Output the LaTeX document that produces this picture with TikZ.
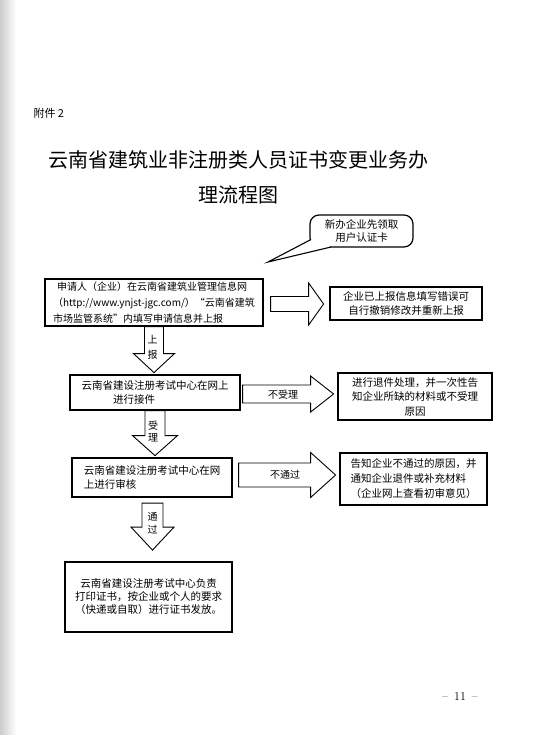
\documentclass[tikz,border=0pt]{standalone}
\usepackage{fontspec}
\newfontfamily\cjk{Noto Sans CJK SC}
\usetikzlibrary{positioning, calc}
\tikzset{
  flowbox/.style={draw, line width=1.2pt, inner sep=0pt,
                  font=\cjk\fontsize{10.5}{14}\selectfont},
  blockarr/.style={draw, line width=0.9pt, fill=white, line join=miter},
  arrlabel/.style={font=\cjk\fontsize{10}{13}\selectfont, align=center, inner sep=0pt}
}
% block arrows: tail, length, shaft half width, head half width, head length
\newcommand{\RightBlock}[5]{%
  \draw[blockarr] (#1) ++(0,-#3) -- ++({#2-#5},0) -- ++(0,{-(#4-#3)})
    -- ++(#5,#4) -- ++(-#5,#4) -- ++(0,{-(#4-#3)}) -- ++({-(#2-#5)},0) -- cycle;}
\newcommand{\DownBlock}[5]{%
  \draw[blockarr] (#1) ++(-#3,0) -- ++(0,{#2-#5}) -- ++({-(#4-#3)},0)
    -- ++(#4,#5) -- ++(#4,-#5) -- ++({-(#4-#3)},0) -- ++(0,{-(#2-#5)}) -- cycle;}

\begin{document}
\begin{tikzpicture}[x=1pt,y=-1pt]
  \useasboundingbox (0,0) rectangle (552,735);
  \shade[left color=gray!40, right color=white] (0,0) rectangle (16,735);

  \node[font=\cjk\fontsize{11}{13}\selectfont, anchor=west] (annex) at (30,113) {附件 2};
  \node[font=\cjk\fontsize{20}{24}\selectfont] (title1) at (238,160) {云南省建筑业非注册类人员证书变更业务办};
  \node[font=\cjk\fontsize{20}{24}\selectfont] (title2) at (238,195) {理流程图};

  % callout
  \node[draw, line width=1.2pt, rounded corners=9pt, minimum width=103pt, minimum height=32pt,
        align=center, font=\cjk\fontsize{10.5}{12.5}\selectfont, inner sep=0pt] (newco) at (361.5,231)
        {新办企业先领取\\用户认证卡};
  \coordinate (tip) at (268,262);
  \fill[white] (311,239.5) -- (tip) -- (331,247) -- cycle;
  \draw[line width=1.1pt] (311,239.5) -- (tip) -- (331,247);

  % main column
  \node[flowbox, minimum width=218pt, minimum height=47pt, align=left,
        font=\cjk\fontsize{10}{16}\selectfont] (apply) at (154,302.5)
        {\hspace*{0.4em}申请人（企业）在云南省建筑业管理信息网\\（http://www.ynjst-jgc.com/）“云南省建筑\\市场监管系统”内填写申请信息并上报};
  \node[flowbox, minimum width=170pt, minimum height=35pt, align=left] (accept) at (155,392.5)
        {云南省建设注册考试中心在网上\\\hspace*{3em}进行接件};
  \node[flowbox, minimum width=160pt, minimum height=39pt, align=left] (review) at (152,477.5)
        {云南省建设注册考试中心在网\\上进行审核};
  \node[flowbox, minimum width=167pt, minimum height=70pt, align=center,
        font=\cjk\fontsize{10.5}{13}\selectfont] (issue) at (148.5,597)
        {云南省建设注册考试中心负责\\打印证书，按企业或个人的要求\\（快递或自取）进行证书发放。};

  % right column
  \node[flowbox, minimum width=152pt, minimum height=33pt, align=center] (revoke) at (406,303.5)
        {企业已上报信息填写错误可\\自行撤销修改并重新上报};
  \node[flowbox, minimum width=154pt, minimum height=47pt, align=center,
        font=\cjk\fontsize{10.5}{14.5}\selectfont] (reject) at (415,396.5)
        {进行退件处理，并一次性告\\知企业所缺的材料或不受理\\原因};
  \node[flowbox, minimum width=147pt, minimum height=52pt, align=left,
        font=\cjk\fontsize{10.5}{15}\selectfont] (fail) at (413.5,479)
        {告知企业不通过的原因，并\\通知企业退件或补充材料\\（企业网上查看初审意见）};

  % block arrows
  \DownBlock{apply.south}{46}{9.5}{20.5}{19}
  \node[arrlabel, font=\cjk\fontsize{10}{15}\selectfont] (up) at (152.5,347) {上\\报};
  \DownBlock{accept.south}{45}{10}{22.5}{20}
  \node[arrlabel, font=\cjk\fontsize{10}{12}\selectfont] (ok) at (153,432) {受\\理};
  \coordinate (t3) at ($(review.south)+(0.5,5.5)$);
  \DownBlock{t3}{47}{10.5}{21.5}{23}
  \node[arrlabel] (pass) at (152.5,523.5) {通\\过};

  \coordinate (r1) at ($(apply.east)+(7,1.5)$);
  \RightBlock{r1}{53}{7.5}{21}{15}
  \coordinate (r2) at ($(accept.east)+(2,1.5)$);
  \RightBlock{r2}{91}{9}{18}{23}
  \node[arrlabel] (noacc) at (283,395) {不受理};
  \coordinate (r3) at ($(review.east)+(6,-2.5)$);
  \RightBlock{r3}{97}{12}{22.5}{25}
  \node[arrlabel] (nopass) at (285,475) {不通过};

  \node[font=\fontsize{12}{14}\selectfont] (pagenum) at (460,697) {--\enspace 11\enspace --};
\end{tikzpicture}
\end{document}
